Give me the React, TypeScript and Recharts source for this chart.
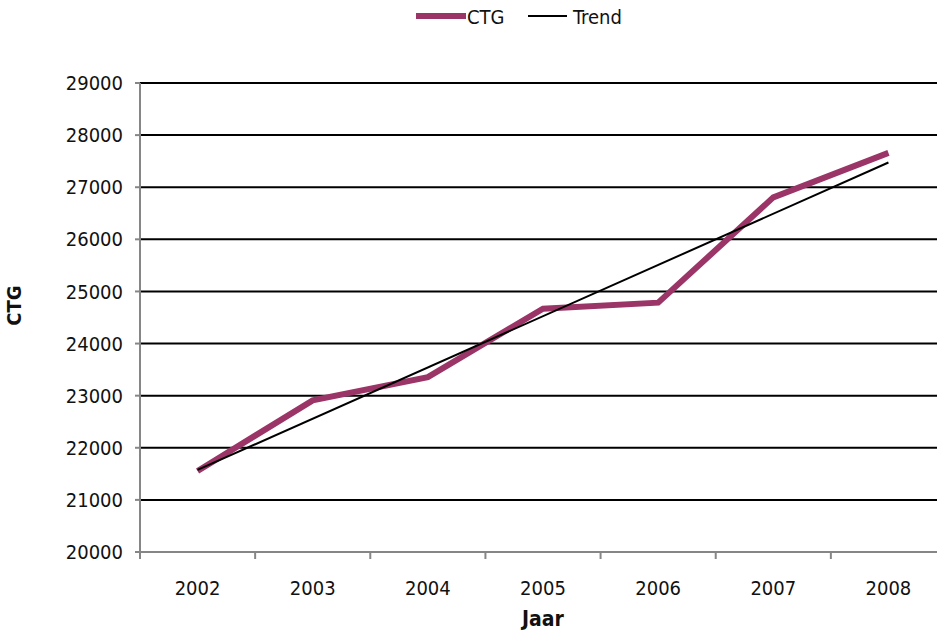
import React from "react";
import {
  LineChart,
  Line,
  XAxis,
  YAxis,
  CartesianGrid,
  Legend,
} from "recharts";

// jaren en waarden
const years = ["2002", "2003", "2004", "2005", "2006", "2007", "2008"];
const ctgValues = [21555, 22910, 23355, 24670, 24785, 26805, 27660];
// trendlijn: alleen begin- en eindpunt, recht doorgetrokken
const trendValues = [21575, null, null, null, null, null, 27475];
const yTicks = [20000, 21000, 22000, 23000, 24000, 25000, 26000, 27000, 28000, 29000];

const data = years.map((year, i) => ({
  x: i,
  year,
  ctg: ctgValues[i],
  trend: trendValues[i],
}));

const FONT = '"DejaVu Sans Condensed", "Liberation Sans Narrow", Arial, sans-serif';
const AXIS_COLOR = "#868686";
const CTG_COLOR = "#9B3467";
const PLOT_LEFT = 140;
const PLOT_WIDTH = 806;
const BAND = PLOT_WIDTH / years.length;

const XTick = (props: any) => {
  const { x, y, payload } = props;
  const left = x - BAND / 2;
  return (
    <g>
      <line x1={left} y1={y} x2={left} y2={y + 7} stroke={AXIS_COLOR} strokeWidth={2} />
      <text
        x={x}
        y={y + 43}
        textAnchor="middle"
        fontSize={20}
        fontFamily={FONT}
        fill="#111"
      >
        {years[payload.value]}
      </text>
    </g>
  );
};

const LegendContent = () => (
  <div
    style={{
      position: "relative",
      height: 40,
      fontFamily: FONT,
      fontSize: 20,
      color: "#111",
    }}
  >
    <svg width={60} height={10} style={{ position: "absolute", left: 416, top: 11 }}>
      <line x1={0} y1={5} x2={50} y2={5} stroke={CTG_COLOR} strokeWidth={6} />
    </svg>
    <span style={{ position: "absolute", left: 467, top: 5 }}>CTG</span>
    <svg width={45} height={10} style={{ position: "absolute", left: 528, top: 11 }}>
      <line x1={0} y1={5} x2={39} y2={5} stroke="#000" strokeWidth={2} />
    </svg>
    <span style={{ position: "absolute", left: 573, top: 5 }}>Trend</span>
  </div>
);

export default function App() {
  return (
    <div
      style={{
        position: "absolute",
        left: 0,
        top: 0,
        width: 937,
        height: 630,
        overflow: "hidden",
        background: "#fff",
      }}
    >
      <LineChart
        width={PLOT_LEFT + PLOT_WIDTH}
        height={630}
        data={data}
        margin={{ top: 43, right: 0, bottom: 0, left: 0 }}
      >
        <Legend
          verticalAlign="top"
          content={<LegendContent />}
          wrapperStyle={{ top: 0, left: 0, width: PLOT_LEFT + PLOT_WIDTH }}
        />
        <CartesianGrid vertical={false} stroke="#000" strokeWidth={2} strokeOpacity={1} />
        <XAxis
          dataKey="x"
          type="number"
          domain={[-0.5, years.length - 0.5]}
          ticks={[0, 1, 2, 3, 4, 5, 6]}
          interval={0}
          height={78}
          tickLine={false}
          tickSize={0}
          tickMargin={0}
          tick={<XTick />}
          axisLine={{ stroke: AXIS_COLOR, strokeWidth: 2 }}
          label={{
            value: "Jaar",
            position: "insideBottom",
            offset: 4,
            style: { fontFamily: FONT, fontSize: 21, fontWeight: "bold", fill: "#111" },
          }}
        />
        <YAxis
          domain={[20000, 29000]}
          ticks={yTicks}
          interval={0}
          width={PLOT_LEFT}
          tickSize={5}
          tickMargin={12}
          tickLine={{ stroke: AXIS_COLOR, strokeWidth: 2 }}
          axisLine={{ stroke: AXIS_COLOR, strokeWidth: 2 }}
          tick={{ fontFamily: FONT, fontSize: 20, fill: "#111" }}
          label={{
            value: "CTG",
            angle: -90,
            position: "insideLeft",
            offset: 14,
            dy: -12,
            style: { fontFamily: FONT, fontSize: 20, fontWeight: "bold", fill: "#111", textAnchor: "middle" },
          }}
        />
        <Line
          dataKey="ctg"
          name="CTG"
          stroke={CTG_COLOR}
          strokeWidth={6}
          dot={false}
          activeDot={false}
          isAnimationActive={false}
        />
        <Line
          dataKey="trend"
          name="Trend"
          stroke="#000"
          strokeWidth={2}
          dot={false}
          activeDot={false}
          connectNulls
          isAnimationActive={false}
        />
      </LineChart>
    </div>
  );
}
